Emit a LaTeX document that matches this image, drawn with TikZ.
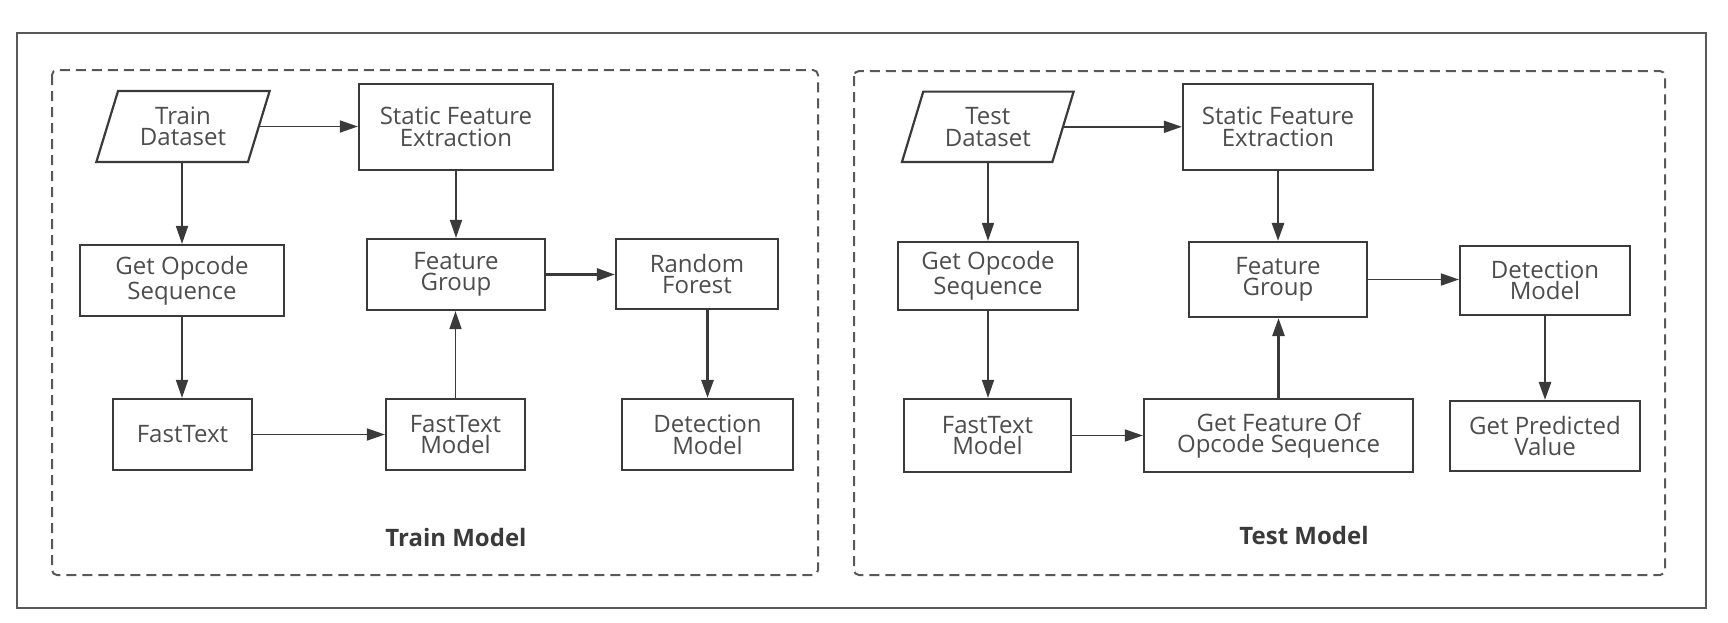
\documentclass[tikz,border=0pt]{standalone}
\usepackage{fontspec}
\setmainfont{Open Sans}
\usetikzlibrary{arrows.meta,shapes.geometric}
\definecolor{ln}{HTML}{3A3A3A}
\definecolor{tx}{HTML}{4D4D4D}
\tikzset{
  box/.style={draw=ln, line width=1.1pt, fill=white, text=tx, align=center,
    font=\fontsize{12pt}{10.8pt}\selectfont, inner sep=0pt},
  para/.style={box, trapezium, trapezium left angle=70, trapezium right angle=110,
    trapezium stretches=true},
  arr/.style={draw=ln, line width=0.85pt, -{Triangle[length=9pt,width=6pt]}},
  arrb/.style={arr, line width=1.4pt},
  panel/.style={draw=ln!85, line width=1pt, dash pattern=on 5pt off 3pt, rounded corners=2.5pt},
  title/.style={font=\fontsize{12pt}{14pt}\selectfont\bfseries, text=ln}
}
\begin{document}
\begin{tikzpicture}[x=0.5pt,y=-0.5pt]
\useasboundingbox (0,0) rectangle (1728,622);
% outer frame and panels
\draw[draw=ln!85, line width=1.2pt] (17,33) rectangle (1706,608);
\draw[panel] (52,70) rectangle (818,575);
\draw[panel] (854,71) rectangle (1665,575);

% ---------- Train model ----------
\node[para, minimum width=86.8pt, minimum height=35.5pt] (td1) at (183,126.5) {Train\\Dataset};
\node[box, minimum width=97pt, minimum height=43pt] (sfe1) at (456,127) {Static Feature\\Extraction};
\node[box, minimum width=102pt, minimum height=35.5pt] (gos1) at (182,280.5) {Get Opcode\\Sequence};
\node[box, minimum width=89pt, minimum height=35.5pt] (fg1) at (456,274.5) {Feature\\Group};
\node[box, minimum width=81pt, minimum height=35pt] (rf) at (697,274) {Random\\Forest};
\node[box, minimum width=69.5pt, minimum height=35.5pt] (ft) at (182.5,434.5) {FastText};
\node[box, minimum width=69.5pt, minimum height=35.5pt] (ftm1) at (455.5,434.5) {FastText\\Model};
\node[box, minimum width=85.5pt, minimum height=35.5pt] (dm1) at (707.5,434.5) {Detection\\Model};
\node[title] (t1) at (456,537) {Train Model};

\draw[arr] (td1.east) -- (td1.east -| sfe1.west);
\draw[arr] (td1.south -| gos1.north) -- (gos1.north);
\draw[arr] (sfe1.south) -- (sfe1.south |- fg1.north);
\draw[arr] (gos1.south) -- (gos1.south |- ft.north);
\draw[arr] (ft.east) -- (ft.east -| ftm1.west);
\draw[arr] (ftm1.north) -- (ftm1.north |- fg1.south);
\draw[arrb] (fg1.east) -- (fg1.east -| rf.west);
\draw[arrb] (rf.south -| dm1.north) -- (dm1.north);

% ---------- Test model ----------
\node[para, minimum width=86.25pt, minimum height=35.2pt] (td2) at (987.8,126.8) {Test\\Dataset};
\node[box, minimum width=95pt, minimum height=43pt] (sfe2) at (1278,127) {Static Feature\\Extraction};
\node[box, minimum width=90pt, minimum height=34pt] (gos2) at (988,276) {Get Opcode\\Sequence};
\node[box, minimum width=89pt, minimum height=37.5pt] (fg2) at (1278,279.5) {Feature\\Group};
\node[box, minimum width=85pt, minimum height=34.5pt] (dm2) at (1545,280.5) {Detection\\Model};
\node[box, minimum width=83.5pt, minimum height=36.5pt] (ftm2) at (987.5,435.5) {FastText\\Model};
\node[box, minimum width=134.5pt, minimum height=36.5pt] (gfos) at (1278.5,435.5) {Get Feature Of\\Opcode Sequence};
\node[box, minimum width=95pt, minimum height=35pt] (gpv) at (1545,436) {Get Predicted\\Value};
\node[title] (t2) at (1304,535) {Test Model};

\draw[arr] (td2.east) -- (td2.east -| sfe2.west);
\draw[arr] (td2.south -| gos2.north) -- (gos2.north);
\draw[arrb] (sfe2.south) -- (sfe2.south |- fg2.north);
\draw[arr] (gos2.south) -- (gos2.south |- ftm2.north);
\draw[arr] (ftm2.east) -- (ftm2.east -| gfos.west);
\draw[arrb] (gfos.north) -- (gfos.north |- fg2.south);
\draw[arr] (fg2.east) -- (fg2.east -| dm2.west);
\draw[arrb] (dm2.south) -- (dm2.south |- gpv.north);
\end{tikzpicture}
\end{document}
